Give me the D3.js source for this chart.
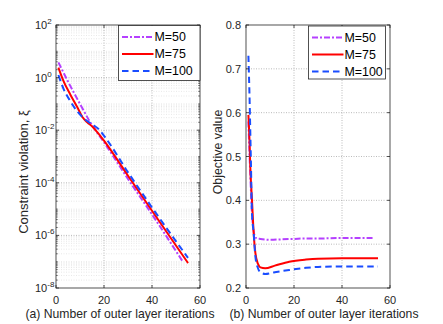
<!DOCTYPE html>
<html><head><meta charset="utf-8">
<script src="https://cdn.jsdelivr.net/npm/d3@7"></script>
<style>
html,body{margin:0;padding:0;background:#fff;}
svg text{font-family:"Liberation Sans",Arial,sans-serif;fill:#262626;}
</style></head>
<body><svg id="c" width="443" height="324"></svg>
<script>
// ---------- data ----------
const seriesNames = ["M=50", "M=75", "M=100"];
const seriesColors = ["#b540ff", "#ff0000", "#1a4dff"];

// (a) constraint violation
const cvIterM50 = [1, 5, 10, 14, 20, 30, 40, 53];
const cvValM50 = [3.8, 0.71, 0.1, 0.022, 3.5e-3, 1.4e-4, 6.3e-6, 9.5e-8];
const cvIterM75 = [1, 3, 6, 9, 11, 13, 15, 17, 20, 30, 40, 55];
const cvValM75 = [2.4, 0.79, 0.224, 0.0708, 0.0316, 0.02, 0.0141, 8.9e-3, 4e-3, 1.86e-4, 8.7e-6, 8.9e-8];
const cvIterM100 = [1, 3, 6, 9, 12, 15, 18, 21, 30, 40, 55];
const cvValM100 = [1.26, 0.40, 0.126, 0.05, 0.026, 0.0170, 0.0105, 4.6e-3, 2.5e-4, 1.15e-5, 1.4e-7];

// (b) objective value
const obIterM50 = [1, 1.5, 2, 2.5, 3.2, 3.9, 6, 10, 15, 20, 25, 30, 40, 53];
const obValM50 = [0.58, 0.5, 0.43, 0.37, 0.33, 0.315, 0.312, 0.31, 0.311, 0.312, 0.313, 0.313, 0.314, 0.314];
const obIterM75 = [1, 1.5, 1.8, 2.5, 3.2, 3.9, 5, 6, 8, 12, 18, 25, 30, 40, 55];
const obValM75 = [0.595, 0.53, 0.475, 0.40, 0.325, 0.28, 0.255, 0.247, 0.245, 0.251, 0.26, 0.265, 0.267, 0.268, 0.268];
const obIterM100 = [1, 1.5, 2, 2.5, 3.2, 3.9, 5, 6, 8, 12, 18, 25, 30, 40, 55];
const obValM100 = [0.73, 0.63, 0.5, 0.37, 0.325, 0.272, 0.245, 0.236, 0.232, 0.236, 0.241, 0.246, 0.248, 0.249, 0.249];

const xTicks = [0, 20, 40, 60];
const cvTickExps = [2, 0, -2, -4, -6, -8];
const obTicks = [0.2, 0.3, 0.4, 0.5, 0.6, 0.7, 0.8];

const xLabelA = "(a) Number of outer layer iterations";
const xLabelB = "(b) Number of outer layer iterations";
const yLabelA = "Constraint violation, ξ";
const yLabelB = "Objective value";

// ---------- styles ----------
const dashes = ["6,2,2,2", null, "6.5,4"];
const axisColor = "#262626";

const svg = d3.select("#c");
const plotTop = 25, plotBottom = 288;

function drawPanel(opts) {
  const g = svg.append("g");
  const x = d3.scaleLinear().domain([0, 60]).range([opts.left, opts.right]);
  const y = opts.y;
  // minor grid
  if (opts.minorY) {
    opts.minorY.forEach(v => {
      g.append("line").attr("x1", opts.left).attr("x2", opts.right)
        .attr("y1", y(v)).attr("y2", y(v))
        .attr("stroke", "#d6d6d6").attr("stroke-width", 0.6).attr("stroke-dasharray", "1,1.5");
    });
  }
  // major grid
  xTicks.forEach(t => {
    if (t > 0 && t < 60) g.append("line").attr("x1", x(t)).attr("x2", x(t)).attr("y1", plotTop).attr("y2", plotBottom)
      .attr("stroke", "#a8a8a8").attr("stroke-width", 0.8).attr("stroke-dasharray", "1,1.5");
  });
  opts.yTickVals.forEach(v => {
    const yy = y(v);
    if (Math.abs(yy - plotTop) > 1 && Math.abs(yy - plotBottom) > 1)
      g.append("line").attr("x1", opts.left).attr("x2", opts.right).attr("y1", yy).attr("y2", yy)
        .attr("stroke", "#a8a8a8").attr("stroke-width", 0.8).attr("stroke-dasharray", "1,1.5");
  });

  // lines
  const clipId = "clip" + opts.id;
  svg.append("clipPath").attr("id", clipId).append("rect")
    .attr("x", opts.left).attr("y", plotTop).attr("width", opts.right - opts.left).attr("height", plotBottom - plotTop);
  const line = d3.line().x(d => x(d[0])).y(d => y(d[1])).curve(d3.curveMonotoneX);
  opts.series.forEach((s, i) => {
    const pts = s.iters.map((it, k) => [it, s.vals[k]]);
    g.append("path").attr("d", line(pts)).attr("fill", "none")
      .attr("clip-path", `url(#${clipId})`)
      .attr("stroke", seriesColors[i]).attr("stroke-width", 2)
      .attr("stroke-dasharray", dashes[i]);
  });

  // box
  g.append("rect").attr("x", opts.left).attr("y", plotTop).attr("width", opts.right - opts.left)
    .attr("height", plotBottom - plotTop).attr("fill", "none").attr("stroke", axisColor).attr("stroke-width", 0.8);

  // x ticks
  xTicks.forEach(t => {
    g.append("line").attr("x1", x(t)).attr("x2", x(t)).attr("y1", plotBottom).attr("y2", plotBottom - 3).attr("stroke", axisColor).attr("stroke-width", 0.8);
    g.append("line").attr("x1", x(t)).attr("x2", x(t)).attr("y1", plotTop).attr("y2", plotTop + 3).attr("stroke", axisColor).attr("stroke-width", 0.8);
    g.append("text").attr("x", x(t)).attr("y", plotBottom + 16).attr("text-anchor", "middle")
      .attr("font-size", 11).text(t);
  });
  // y ticks
  opts.yTickVals.forEach((v, k) => {
    const yy = y(v);
    g.append("line").attr("x1", opts.left).attr("x2", opts.left + 3).attr("y1", yy).attr("y2", yy).attr("stroke", axisColor).attr("stroke-width", 0.8);
    g.append("line").attr("x1", opts.right).attr("x2", opts.right - 3).attr("y1", yy).attr("y2", yy).attr("stroke", axisColor).attr("stroke-width", 0.8);
    opts.yLabel(g, yy, k);
  });
  if (opts.minorY) {
    opts.minorY.forEach(v => {
      const yy = y(v);
      g.append("line").attr("x1", opts.left).attr("x2", opts.left + 1.8).attr("y1", yy).attr("y2", yy).attr("stroke", axisColor).attr("stroke-width", 0.6);
      g.append("line").attr("x1", opts.right).attr("x2", opts.right - 1.8).attr("y1", yy).attr("y2", yy).attr("stroke", axisColor).attr("stroke-width", 0.6);
    });
  }

  // axis labels
  g.append("text").attr("x", opts.xLabelX).attr("y", 317.5).attr("text-anchor", "middle")
    .attr("font-size", 12.2).text(opts.xLabel);
  g.append("text").attr("transform", `translate(${opts.yLabelX},${opts.yLabelY}) rotate(-90)`)
    .attr("text-anchor", "middle").attr("font-size", opts.yLabelSize).text(opts.yLabelText);

  // legend
  const L = opts.legend;
  g.append("rect").attr("x", L.x).attr("y", L.y).attr("width", L.w).attr("height", L.h)
    .attr("fill", "#fff").attr("stroke", axisColor).attr("stroke-width", 0.8);
  seriesNames.forEach((n, i) => {
    const ry = L.y + 11.5 + i * 17;
    g.append("line").attr("x1", L.x + 3.5).attr("x2", L.x + 35).attr("y1", ry).attr("y2", ry)
      .attr("stroke", seriesColors[i]).attr("stroke-width", 2).attr("stroke-dasharray", dashes[i]);
    g.append("text").attr("x", L.x + 36).attr("y", ry + 4.4).attr("font-size", 12.4).style("fill", "#000").text(n);
  });
}

// panel (a)
const yLog = d3.scaleLog().domain([1e-8, 1e2]).range([plotBottom, plotTop]);
const minorLog = [];
for (let e = -8; e < 2; e++) {
  for (let m = 1; m <= 9; m++) {
    if (m === 1 && e % 2 === 0) continue;
    minorLog.push(m * Math.pow(10, e));
  }
}
drawPanel({
  id: "a", left: 56, right: 200, y: yLog,
  yTickVals: cvTickExps.map(e => Math.pow(10, e)),
  minorY: minorLog,
  yLabel: (g, yy, k) => {
    const t = g.append("text").attr("x", 35).attr("y", yy + 4).attr("text-anchor", "start").attr("font-size", 11);
    t.append("tspan").text("10");
    t.append("tspan").attr("dy", -5).attr("font-size", 8).text(String(cvTickExps[k]).replace("-", "\u2010"));
  },
  series: [
    {iters: cvIterM50, vals: cvValM50},
    {iters: cvIterM75, vals: cvValM75},
    {iters: cvIterM100, vals: cvValM100}
  ],
  xLabel: xLabelA, xLabelX: 120, yLabelX: 27.5, yLabelY: 172, yLabelSize: 13, yLabelText: yLabelA,
  legend: {x: 118.5, y: 25.5, w: 81.5, h: 55}
});

// panel (b)
const yLin = d3.scaleLinear().domain([0.2, 0.8]).range([plotBottom, plotTop]);
drawPanel({
  id: "b", left: 246, right: 390, y: yLin,
  yTickVals: obTicks,
  minorY: null,
  yLabel: (g, yy, k) => {
    g.append("text").attr("x", 241).attr("y", yy + 4).attr("text-anchor", "end").attr("font-size", 11).text(obTicks[k].toFixed(1));
  },
  series: [
    {iters: obIterM50, vals: obValM50},
    {iters: obIterM75, vals: obValM75},
    {iters: obIterM100, vals: obValM100}
  ],
  xLabel: xLabelB, xLabelX: 324, yLabelX: 222, yLabelY: 152, yLabelSize: 12.4, yLabelText: yLabelB,
  legend: {x: 308.5, y: 26, w: 77, h: 53}
});
</script></body></html>
